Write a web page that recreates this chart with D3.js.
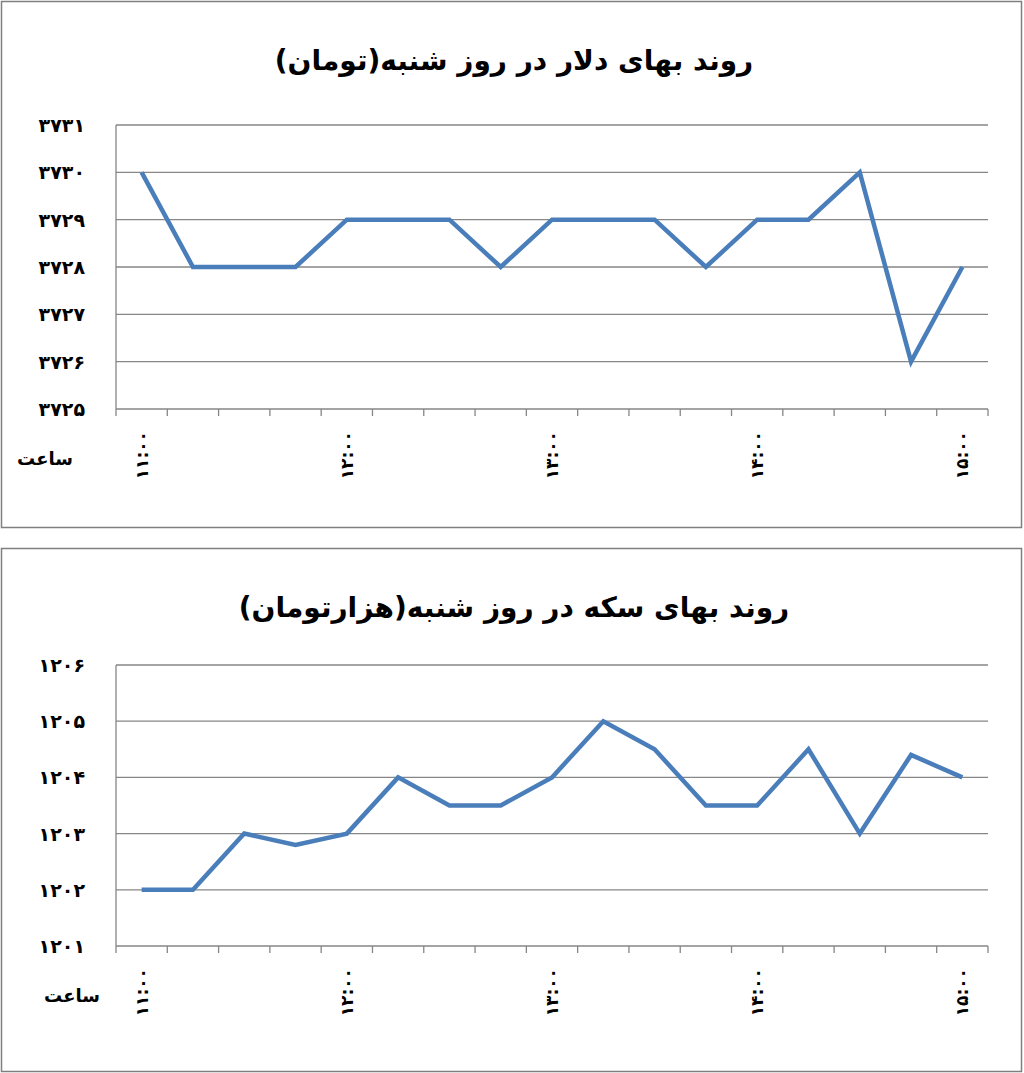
<!DOCTYPE html>
<html><head><meta charset="utf-8">
<script src="https://cdn.jsdelivr.net/npm/d3@7"></script>
<style>body{margin:0;background:#fff}text{font-family:"DejaVu Sans",sans-serif;font-weight:bold}</style>
</head><body>
<svg id="c" width="1024" height="1073"></svg>
<script>
// times 11:00 to 15:00, every 15 minutes
const hours = ["11:00","","","","12:00","","","","13:00","","","","14:00","","","","15:00"];
const dollar = [3730,3728,3728,3728,3729,3729,3729,3728,3729,3729,3729,3728,3729,3729,3730,3726,3728];
const coin = [1202,1202,1203,1202.8,1203,1204,1203.5,1203.5,1204,1205,1204.5,1203.5,1203.5,1204.5,1203,1204.4,1204];

const fa = s => String(s).replace(/\d/g, d => "۰۱۲۳۴۵۶۷۸۹"[d]);
const svg = d3.select("#c");

function chart(top, h, title, values, yMin, yMax, plotTop, plotBot, labelX) {
  const g = svg.append("g");
  g.append("rect").attr("x", 1.5).attr("y", top + 1.5).attr("width", 1020).attr("height", h)
    .attr("fill", "none").attr("stroke", "#7f7f7f").attr("stroke-width", 1.5);
  g.append("text").attr("x", 514).attr("y", top + 70).attr("text-anchor", "middle")
    .attr("font-size", 28).attr("direction", "rtl").text(title);

  const x = d3.scaleBand().domain(d3.range(values.length)).range([116, 988]);
  const y = d3.scaleLinear().domain([yMin, yMax]).range([plotBot, plotTop]);

  y.ticks(yMax - yMin).forEach(t => {
    g.append("line").attr("x1", 116).attr("x2", 988).attr("y1", y(t)).attr("y2", y(t))
      .attr("stroke", "#868686").attr("stroke-width", 1.3);
    g.append("text").attr("x", 85).attr("y", y(t) + 7).attr("text-anchor", "end")
      .attr("font-size", 19).attr("letter-spacing", 4).text(fa(t));
  });
  g.append("line").attr("x1", 116).attr("x2", 116).attr("y1", plotTop).attr("y2", plotBot)
    .attr("stroke", "#868686").attr("stroke-width", 1.3);
  d3.range(values.length + 1).forEach(i => {
    const xx = 116 + i * x.step();
    g.append("line").attr("x1", xx).attr("x2", xx).attr("y1", plotBot).attr("y2", plotBot + 7)
      .attr("stroke", "#868686").attr("stroke-width", 1.3);
  });
  hours.forEach((hh, i) => {
    if (!hh) return;
    const cx = x(i) + x.bandwidth() / 2;
    g.append("text").attr("transform", `translate(${cx + 6},${plotBot + 22}) rotate(-90)`)
      .attr("text-anchor", "end").attr("font-size", 17).attr("letter-spacing", 5).text(fa(hh));
  });
  g.append("text").attr("x", labelX).attr("y", plotBot + 56).attr("text-anchor", "middle")
    .attr("font-size", 18).text("ساعت");

  const line = d3.line().x((d, i) => x(i) + x.bandwidth() / 2).y(d => y(d));
  g.append("path").datum(values).attr("d", line).attr("fill", "none")
    .attr("stroke", "#4a7ebb").attr("stroke-width", 4.5).attr("stroke-linejoin", "miter");
}

chart(0, 526, "روند بهای دلار در روز شنبه(تومان)", dollar, 3725, 3731, 125, 409, 45);
chart(547, 523, "روند بهای سکه در روز شنبه(هزارتومان)", coin, 1201, 1206, 665, 946, 72);
</script>
</body></html>
